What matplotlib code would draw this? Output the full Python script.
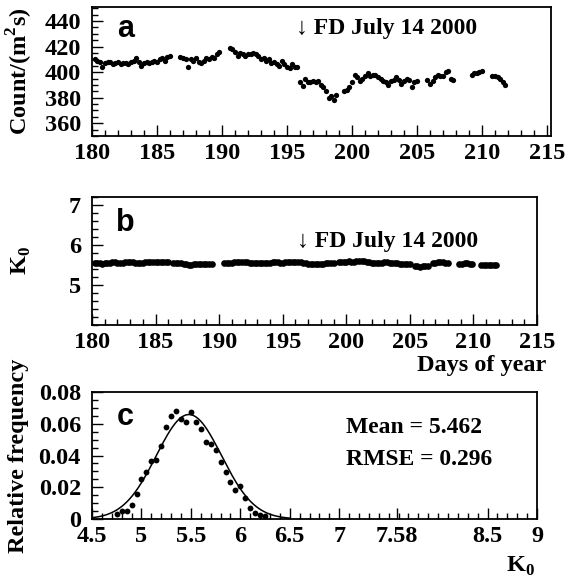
import numpy as np
import matplotlib
matplotlib.use("Agg")
import matplotlib.pyplot as plt
from matplotlib.ticker import MultipleLocator, FixedLocator

# ---- data ----------------------------------------------------------------
# panel a: cosmic ray count rate, segments sampled every 0.2 day
STEP = 0.2
count_starts = [180.2, 186.8, 190.6, 196.0, 199.4, 205.8, 209.2, 210.8]
count_values = [
    [410, 409, 408, 404, 407, 408, 408, 406, 407, 408, 406, 407, 407, 406, 408,
     409, 411, 408, 405, 407, 408, 407, 408, 409, 408, 410, 411, 409, 412, 413],
    [412, 411, 410, 404, 410, 409, 411, 408, 407, 409, 411, 410, 412, 411, 414, 416],
    [419, 418, 416, 413, 415, 414, 413, 414, 414, 415, 414, 413, 410, 411, 409,
     410, 407, 408, 406, 405, 409, 406, 404, 403, 406, 404, 404],
    [392, 389, 395, 392, 392, 393, 392, 393, 390, 388, 385, 380, 381, 378, 382],
    [385, 386, 388, 392, 398, 396, 393, 395, 397, 399, 397, 398, 398, 396, 395,
     393, 392, 390, 393, 394, 396, 394, 391, 393, 395, 394, 388, 392, 393],
    [394, 391, 393, 396, 398, 397, 397, 400, 401, 395, 394],
    [398, 399, 399, 400, 401],
    [397, 397, 396, 395, 392, 390],
]

# panel b: K0, segments sampled every 0.2 day
k0_starts = [180.2, 186.4, 190.4, 196.8, 199.4, 202.2, 205.4, 206.8, 208.9, 210.6]
k0_values = [
    [5.54, 5.55, 5.54, 5.53, 5.54, 5.55, 5.56, 5.57, 5.57, 5.56, 5.55, 5.56, 5.57,
     5.58, 5.58, 5.57, 5.56, 5.55, 5.55, 5.56, 5.57, 5.58, 5.58, 5.57, 5.57, 5.58,
     5.58, 5.58, 5.57, 5.57],
    [5.55, 5.55, 5.54, 5.54, 5.53, 5.52, 5.51, 5.51, 5.52, 5.52, 5.53, 5.53, 5.52,
     5.53, 5.53, 5.53],
    [5.55, 5.55, 5.56, 5.56, 5.57, 5.58, 5.58, 5.57, 5.57, 5.57, 5.56, 5.56, 5.56,
     5.55, 5.55, 5.55, 5.56, 5.56, 5.56, 5.57, 5.57, 5.57, 5.56, 5.56, 5.57, 5.57,
     5.58, 5.58, 5.57, 5.57, 5.57, 5.56],
    [5.54, 5.53, 5.52, 5.52, 5.52, 5.53, 5.53, 5.53, 5.54, 5.54, 5.54, 5.54],
    [5.57, 5.58, 5.58, 5.58, 5.59, 5.58, 5.58, 5.59, 5.59, 5.60, 5.59, 5.58, 5.57, 5.56],
    [5.55, 5.55, 5.55, 5.56, 5.57, 5.57, 5.56, 5.56, 5.55, 5.54, 5.53, 5.52, 5.52,
     5.52, 5.52],
    [5.47, 5.47, 5.46, 5.47, 5.47, 5.48],
    [5.55, 5.56, 5.57, 5.57, 5.57, 5.56, 5.56],
    [5.53, 5.53, 5.54, 5.54, 5.53, 5.53],
    [5.50, 5.51, 5.51, 5.50, 5.50, 5.50, 5.49],
]

# panel c: histogram of K0 and gaussian fit
hist_k0 = [4.75, 4.80, 4.85, 4.90, 4.95, 5.00, 5.05, 5.10, 5.15, 5.20, 5.25,
           5.30, 5.35, 5.40, 5.45, 5.50, 5.55, 5.60, 5.65, 5.70, 5.75, 5.80,
           5.85, 5.90, 5.95, 6.00, 6.05, 6.10, 6.15, 6.20, 6.25]
hist_freq = [0.0034, 0.0052, 0.0052, 0.0090, 0.0155, 0.0250, 0.0296, 0.0367,
             0.0373, 0.0460, 0.0577, 0.0648, 0.0678, 0.0632, 0.0613, 0.0672,
             0.0613, 0.0565, 0.0485, 0.0472, 0.0434, 0.0359, 0.0294, 0.0231,
             0.0185, 0.0206, 0.0130, 0.0069, 0.0038, 0.0027, 0.0017]
fit_amp, fit_mean, fit_sigma = 0.0658, 5.48, 0.33
stats_text = ["Mean = 5.462", "RMSE = 0.296"]
c_ticks = [4.5, 5, 5.5, 6, 6.5, 7, 7.58, 8.5, 9]
c_ticklabels = ["4.5", "5", "5.5", "6", "6.5", "7", "7.58", "8.5", "9"]
event_label = "\u2193 FD July 14 2000"

# ---- style ---------------------------------------------------------------
SERIF = ["Liberation Serif", "DejaVu Serif"]
SANS = ["Liberation Sans", "DejaVu Sans"]
plt.rcParams["font.family"] = SERIF
plt.rcParams["font.weight"] = "bold"
plt.rcParams["mathtext.fontset"] = "custom"
plt.rcParams["mathtext.bf"] = "Liberation Serif:bold"
plt.rcParams["mathtext.rm"] = "Liberation Serif:bold"
TICK_FS = 17.5
LAB_FS = 17.5
W, H = 575, 583


def box(l, r, t, b):
    return [l / W, 1 - b / H, (r - l) / W, (b - t) / H]


def root_axes(ax):
    for s in ax.spines.values():
        s.set_linewidth(1.3)
    ax.tick_params(which="both", direction="in", top=False, right=False,
                   labelsize=TICK_FS, width=1.0)
    ax.tick_params(axis="x", which="both", pad=5)
    ax.tick_params(axis="y", which="both", pad=8)
    ax.tick_params(which="major", length=8)
    ax.tick_params(which="minor", length=4)
    for lab in ax.get_xticklabels() + ax.get_yticklabels():
        lab.set_fontweight("bold")


def segments(starts, values):
    xs, ys = [], []
    for s, v in zip(starts, values):
        xs.extend(s + STEP * i for i in range(len(v)))
        ys.extend(v)
    return np.array(xs), np.array(ys)


fig = plt.figure(figsize=(W / 100, H / 100), dpi=100)

# panel a
ax1 = fig.add_axes(box(92, 551, 7, 136))
x, y = segments(count_starts, count_values)
ax1.plot(x, y, "o", color="black", ms=3.8, mew=0)
ax1.set_xlim(180, 215.3)
ax1.set_ylim(350, 451)
ax1.xaxis.set_major_locator(MultipleLocator(5))
ax1.xaxis.set_minor_locator(MultipleLocator(1))
ax1.yaxis.set_major_locator(MultipleLocator(20))
ax1.yaxis.set_minor_locator(MultipleLocator(5))
root_axes(ax1)
ax1.set_ylabel("Count/(m$^\\mathbf{2}$s)", fontsize=LAB_FS, fontweight="bold", labelpad=7)
ax1.text(0.055, 0.83, "a", transform=ax1.transAxes, fontsize=22, fontweight="bold",
         family=SANS, va="center")
ax1.text(0.445, 0.83, event_label, transform=ax1.transAxes, fontsize=17,
         fontweight="bold", va="center")

# panel b
ax2 = fig.add_axes(box(92, 537, 197, 325))
x, y = segments(k0_starts, k0_values)
ax2.plot(x, y, "o", color="black", ms=4.8, mew=0)
ax2.set_xlim(180, 215)
ax2.set_ylim(4.0, 7.2)
ax2.xaxis.set_major_locator(MultipleLocator(5))
ax2.xaxis.set_minor_locator(MultipleLocator(1))
ax2.yaxis.set_major_locator(FixedLocator([5, 6, 7]))
ax2.yaxis.set_minor_locator(MultipleLocator(0.2))
root_axes(ax2)
ax2.set_ylabel("K$_\\mathbf{0}$", fontsize=LAB_FS, fontweight="bold", labelpad=26)
ax2.text(0.055, 0.80, "b", transform=ax2.transAxes, fontsize=22, fontweight="bold",
         family=SANS, va="center")
ax2.text(0.46, 0.65, event_label, transform=ax2.transAxes, fontsize=17,
         fontweight="bold", va="center")
fig.text(546 / W, 1 - 366 / H, "Days of year", ha="right", va="center",
         fontsize=LAB_FS, fontweight="bold")

# panel c
ax3 = fig.add_axes(box(92, 537, 392, 519))
ax3.plot(hist_k0, hist_freq, "o", color="black", ms=4.2, mew=0)
xf = np.linspace(4.5, 6.5, 300)
ax3.plot(xf, fit_amp * np.exp(-(xf - fit_mean) ** 2 / (2 * fit_sigma ** 2)),
         color="black", lw=1.1)
ax3.set_xlim(4.5, 9)
ax3.set_ylim(0, 0.08)
ax3.set_xticks(c_ticks)
ax3.set_xticklabels(c_ticklabels)
ax3.xaxis.set_minor_locator(MultipleLocator(0.1))
ax3.yaxis.set_major_locator(MultipleLocator(0.02))
ax3.yaxis.set_minor_locator(MultipleLocator(0.005))
ax3.yaxis.set_major_formatter(plt.FuncFormatter(lambda v, p: "0" if v == 0 else f"{v:.2f}"))
root_axes(ax3)
ax3.set_ylabel("Relative frequency", fontsize=LAB_FS, fontweight="bold", labelpad=7)
ax3.text(0.055, 0.80, "c", transform=ax3.transAxes, fontsize=22, fontweight="bold",
         family=SANS, va="center")
ax3.text(0.57, 0.72, stats_text[0], transform=ax3.transAxes, fontsize=17,
         fontweight="bold", va="center")
ax3.text(0.57, 0.47, stats_text[1], transform=ax3.transAxes, fontsize=17,
         fontweight="bold", va="center")
fig.text(520 / W, 1 - 566 / H, "K$_\\mathbf{0}$", ha="center", va="center",
         fontsize=LAB_FS, fontweight="bold")

fig.savefig("out.png", dpi=100)
